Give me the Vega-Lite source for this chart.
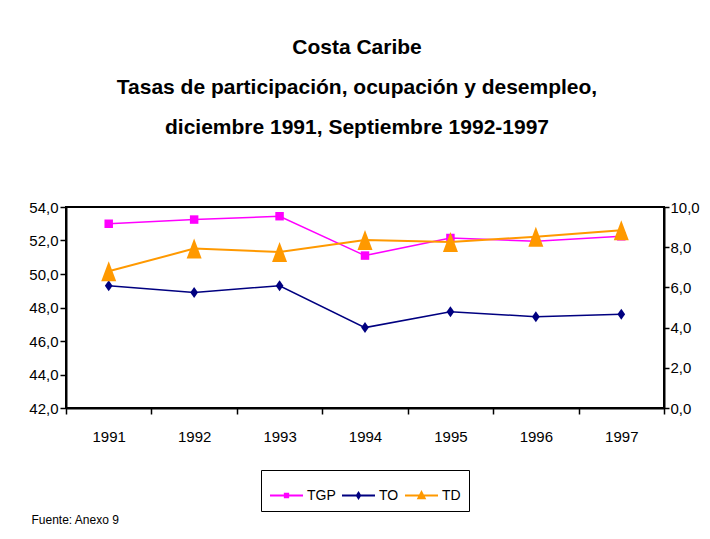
{
  "$schema": "https://vega.github.io/schema/vega-lite/v6.json",
  "width": 598,
  "height": 201,
  "autosize": {"type": "none"},
  "padding": {"left": 66, "top": 207, "right": 46, "bottom": 131},
  "background": "white",
  "config": {
    "font": "Liberation Sans",
    "view": {"stroke": "black", "strokeWidth": 2},
    "axis": {"grid": false, "domainColor": "black", "domainWidth": 2, "tickColor": "black", "tickWidth": 1.5, "labelColor": "black", "labelFont": "Liberation Sans", "labelFontSize": 15}
  },
  "title": {
    "text": ["Costa Caribe", "Tasas de participación, ocupación y desempleo,", "diciembre 1991, Septiembre 1992-1997"],
    "font": "Liberation Sans", "fontSize": 21, "fontWeight": "bold", "color": "black",
    "lineHeight": 40, "anchor": "middle", "dx": -8, "baseline": "bottom", "offset": 41
  },
  "data": {"values": [
    {"anio": "1991", "serie": "TGP", "valor": 53.0},
    {"anio": "1992", "serie": "TGP", "valor": 53.25},
    {"anio": "1993", "serie": "TGP", "valor": 53.45},
    {"anio": "1994", "serie": "TGP", "valor": 51.1},
    {"anio": "1995", "serie": "TGP", "valor": 52.15},
    {"anio": "1996", "serie": "TGP", "valor": 51.95},
    {"anio": "1997", "serie": "TGP", "valor": 52.25},
    {"anio": "1991", "serie": "TO", "valor": 49.3},
    {"anio": "1992", "serie": "TO", "valor": 48.9},
    {"anio": "1993", "serie": "TO", "valor": 49.3},
    {"anio": "1994", "serie": "TO", "valor": 46.8},
    {"anio": "1995", "serie": "TO", "valor": 47.75},
    {"anio": "1996", "serie": "TO", "valor": 47.45},
    {"anio": "1997", "serie": "TO", "valor": 47.6},
    {"anio": "1991", "serie": "TD", "valor": 6.8},
    {"anio": "1992", "serie": "TD", "valor": 7.93},
    {"anio": "1993", "serie": "TD", "valor": 7.76},
    {"anio": "1994", "serie": "TD", "valor": 8.36},
    {"anio": "1995", "serie": "TD", "valor": 8.26},
    {"anio": "1996", "serie": "TD", "valor": 8.52},
    {"anio": "1997", "serie": "TD", "valor": 8.84}
  ]},
  "encoding": {
    "x": {
      "field": "anio", "type": "ordinal",
      "scale": {"type": "band", "paddingInner": 0, "paddingOuter": 0},
      "axis": {
        "labelAngle": 0, "tickBand": "extent", "tickSize": 6, "labelPadding": 15,
        "title": "Fuente: Anexo 9", "titleAnchor": "start", "titleAlign": "left", "titleX": -35, "titleY": 111,
        "titleBaseline": "middle", "titleFontSize": 12, "titleFontWeight": "normal", "titleColor": "black", "titleFont": "Liberation Sans"
      }
    }
  },
  "layer": [
    {
      "transform": [{"filter": "datum.serie != 'TD'"}],
      "encoding": {
        "y": {
          "field": "valor", "type": "quantitative",
          "scale": {"domain": [42, 54], "nice": false, "zero": false},
          "axis": {"orient": "left", "title": null, "values": [42, 44, 46, 48, 50, 52, 54], "tickSize": 6, "labelPadding": 2,
                   "labelExpr": "replace(format(datum.value, '.1f'), '.', ',')"}
        }
      },
      "layer": [
        {
          "mark": {"type": "line", "strokeWidth": 1.5},
          "encoding": {
            "stroke": {"field": "serie", "type": "nominal", "scale": {"domain": ["TD", "TGP", "TO"], "range": ["#FF9900", "#FF00FF", "#000080"]}, "legend": null}
          }
        },
        {
          "transform": [{"filter": "datum.serie == 'TGP'"}],
          "mark": {"type": "point", "filled": true, "opacity": 1, "shape": "square", "size": 72},
          "encoding": {"fill": {"field": "serie", "type": "nominal", "scale": {"domain": ["TD", "TGP", "TO"], "range": ["#FF9900", "#FF00FF", "#000080"]}, "legend": null}}
        },
        {
          "transform": [{"filter": "datum.serie == 'TO'"}],
          "mark": {"type": "point", "filled": true, "opacity": 1, "shape": "M0,-1L0.7,0L0,1L-0.7,0Z", "size": 121},
          "encoding": {"fill": {"field": "serie", "type": "nominal", "legend": null}}
        },
        {
          "transform": [{"filter": "false"}],
          "mark": {"type": "point", "filled": true, "opacity": 1},
          "encoding": {
            "color": {
              "field": "serie", "type": "nominal",
              "scale": {"domain": ["TGP", "TO", "TD"], "range": ["#FF00FF", "#000080", "#FF9900"]},
              "legend": {
                "orient": "none", "legendX": 195, "legendY": 263, "direction": "horizontal", "title": null,
                "padding": 8, "strokeColor": "black", "fillColor": "white", "symbolSize": 1089,
                "labelFontSize": 14, "labelColor": "black", "labelFont": "Liberation Sans", "labelOffset": 3, "columnPadding": 2, "gridAlign": "none",
                "symbolOpacity": 1,
                "encode": {"symbols": {"update": {"stroke": {"scale": "color", "field": "value"}, "strokeWidth": {"value": 2}, "opacity": {"value": 1}}}}
              }
            },
            "shape": {
              "field": "serie", "type": "nominal",
              "scale": {"domain": ["TGP", "TO", "TD"], "range": [
                "M-1,0H1M-0.1,-0.1H0.1V0.1H-0.1Z",
                "M-1,0H1M0,-0.16L0.1,0L0,0.16L-0.1,0Z",
                "M-1,0H1M0,-0.2L0.19,0.16H-0.19Z"
              ]},
              "legend": {
                "orient": "none", "legendX": 195, "legendY": 263, "direction": "horizontal", "title": null,
                "padding": 8, "strokeColor": "black", "fillColor": "white", "symbolSize": 1089,
                "labelFontSize": 14, "labelColor": "black", "labelFont": "Liberation Sans", "labelOffset": 3, "columnPadding": 2, "gridAlign": "none",
                "symbolOpacity": 1
              }
            }
          }
        }
      ]
    },
    {
      "transform": [{"filter": "datum.serie == 'TD'"}],
      "encoding": {
        "y": {
          "field": "valor", "type": "quantitative",
          "scale": {"domain": [0, 10], "nice": false},
          "axis": {"orient": "right", "title": null, "values": [0, 2, 4, 6, 8, 10], "tickSize": 5, "labelPadding": 1,
                   "labelExpr": "replace(format(datum.value, '.1f'), '.', ',')"}
        }
      },
      "layer": [
        {"mark": {"type": "line", "strokeWidth": 2}, "encoding": {"stroke": {"field": "serie", "type": "nominal", "legend": null}}},
        {"mark": {"type": "point", "filled": true, "opacity": 1, "shape": "M0,-1L0.75,1H-0.75Z", "size": 400}, "encoding": {"fill": {"field": "serie", "type": "nominal", "legend": null}}}
      ]
    }
  ],
  "resolve": {"scale": {"y": "independent"}}
}
